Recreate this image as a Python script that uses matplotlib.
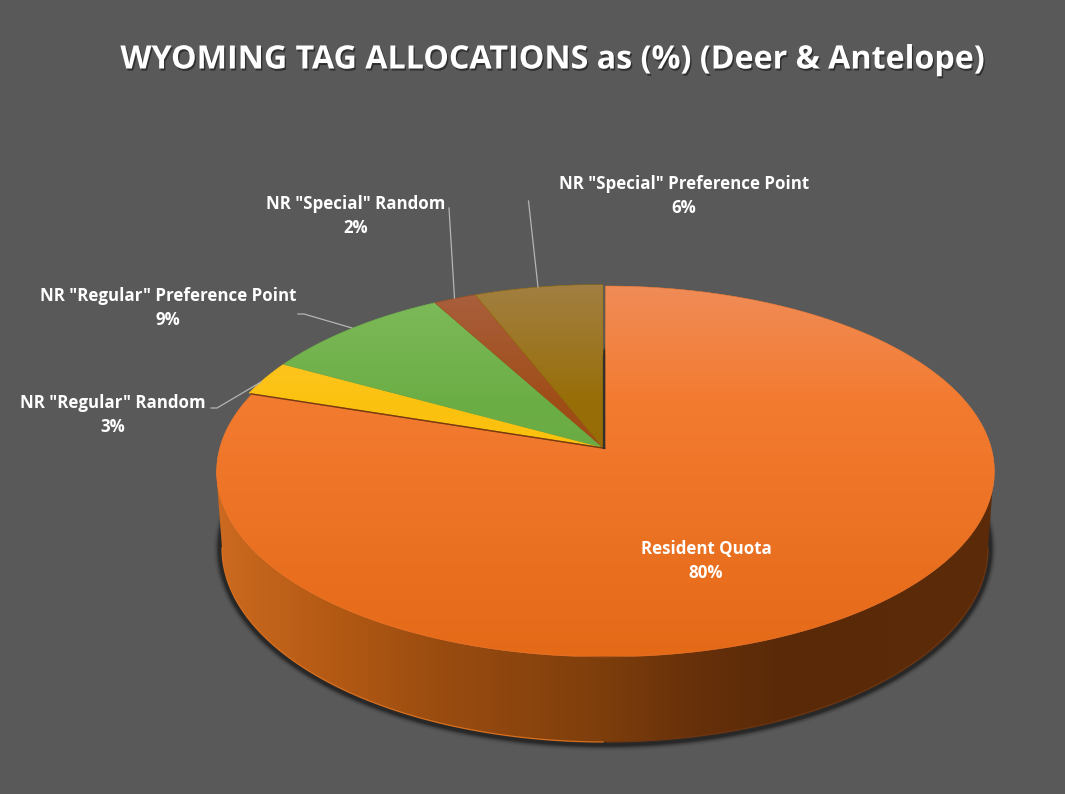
import numpy as np
import matplotlib
matplotlib.use("Agg")
import matplotlib.pyplot as plt
import matplotlib.patheffects as pe
from matplotlib.patches import Polygon
from matplotlib.colors import to_rgb

slice_names = ["Resident Quota", 'NR "Regular" Random', 'NR "Regular" Preference Point',
               'NR "Special" Random', 'NR "Special" Preference Point']
slice_values = [80, 3, 9, 2, 6]

# colours of each slice at top / middle / bottom of the face
slice_colors = [
    ["#F08C58", "#F37B30", "#E56A18"],
    ["#FFC840", "#FCC210", "#F8BE00"],
    ["#7FBB5C", "#6CAE46", "#62A636"],
    ["#AA6040", "#A04E18", "#9C4408"],
    ["#A27F42", "#986E08", "#946600"],
]
slice_shift = [(0.5, 1.0), (-2, -0.5), (-2, -0.5), (-2, -0.5), (-2, -0.5)]

label_pos = [(706, 561), (113, 415), (168, 308), (356, 216), (684, 196)]
leaders = [
    None,
    [(211, 408), (217, 408), (261, 382)],
    [(298, 314), (304, 314), (352, 328)],
    [(449, 208), (454.5, 298)],
    [(528.5, 201), (538, 287)],
]

BG = "#595959"
CX, CY = 604, 448        # apex of the pie
A, B, K = 386.0, 182.7, 0.121   # perspective of the tilted disc


def disc_xy(theta):
    # theta in radians, clockwise from 12 o'clock
    u, v = np.sin(theta), np.cos(theta)
    d = 1 + K * v
    return CX + 1 + A * u / d, CY - B * v / d


def ramp(stops, ys, y):
    arr = np.array([to_rgb(c) for c in stops])
    return np.stack([np.interp(y, ys, arr[:, i]) for i in range(3)], axis=1)


def gradient(ax, poly, colors, vertical=True):
    patch = Polygon(poly, closed=True, transform=ax.transData, fc="none", ec="none")
    ax.add_patch(patch)
    xs, ys = poly[:, 0], poly[:, 1]
    if vertical:
        grid = np.arange(285, 657)
        img = ramp(colors, [285, 400, 656], grid)[:, None, :]
        extent = (xs.min() - 2, xs.max() + 2, 656, 285)
    else:
        grid = np.arange(216, 995)
        img = ramp(colors[1], colors[0], grid)[None, :, :]
        extent = (216, 994, ys.max() + 2, ys.min() - 2)
    im = ax.imshow(img, extent=extent, aspect="auto", interpolation="bilinear", zorder=patch.get_zorder())
    im.set_clip_path(patch)
    return im


fig = plt.figure(figsize=(10.65, 7.94), dpi=100, facecolor=BG)
ax = fig.add_axes([0, 0, 1, 1])
ax.set_facecolor(BG)
ax.axis("off")

# soft shadow below the pie
t = np.linspace(0, 2 * np.pi, 400)
for grow, alpha in [(5, 0.06), (4, 0.10), (3, 0.16), (2, 0.30), (1, 0.55), (0, 0.8)]:
    ax.fill(605 + (386.5 + grow) * np.cos(t), 548.5 + (197.5 + grow) * np.sin(t),
            color="#262626", alpha=alpha, lw=0, zorder=1)

# side wall
t = np.linspace(0, np.pi, 300)
bx, by = 605 + 383 * np.cos(t), 548 + 194 * np.sin(t)
wall = np.column_stack([np.r_[994, bx, 216], np.r_[470, by, 470]])
wall_x = [216, 330, 430, 600, 700, 780, 994]
wall_c = ["#CC6A20", "#B45A14", "#9C4D10", "#7E3E0C", "#66300A", "#5A2A08", "#5C2C0A"]
gradient(ax, wall, (wall_x, wall_c), vertical=False).set_zorder(2)
ax.plot(bx[bx < 605], by[bx < 605], color="#D9701F", lw=0.9, zorder=3)
ax.plot(bx[bx >= 605], by[bx >= 605], color="#6F3510", lw=0.9, zorder=3)

# top face
ends = np.cumsum(slice_values) / np.sum(slice_values) * 2 * np.pi
starts = np.r_[0, ends[:-1]]
for th0, th1, cols, (dx, dy) in zip(starts, ends, slice_colors, slice_shift):
    th = np.linspace(th0, th1, max(int((th1 - th0) * 120), 8))
    x, y = disc_xy(th)
    poly = np.column_stack([np.r_[CX + 1, x] + dx, np.r_[CY, y] + dy])
    gradient(ax, poly, cols).set_zorder(4)
    ax.plot(np.r_[poly[:, 0], poly[0, 0]], np.r_[poly[:, 1], poly[0, 1]],
            color=cols[1], lw=0.4, zorder=4)

# dark inner edges where the big slice sits apart
rx, ry = disc_xy(ends[0])
ax.plot([rx, CX + 1], [ry + 0.3, CY + 0.3], color="#7A3A10", lw=1.0, zorder=5)
ax.plot([CX - 0.5, CX - 0.5], [355, CY + 1], color="#33302C", lw=1.6, zorder=5, solid_capstyle="butt")

for pts in leaders:
    if pts:
        ax.plot(*zip(*pts), color="#B4B4B4", lw=0.9, zorder=6)

font = ["Open Sans", "DejaVu Sans"]
for name, val, (lx, ly) in zip(slice_names, slice_values, label_pos):
    ax.text(lx, ly, f"{name}\n{val}%", color="white", fontsize=12.2, fontweight="bold",
            family=font, ha="center", va="center", linespacing=1.42, zorder=7)

ax.text(553, 60, "WYOMING TAG ALLOCATIONS as (%) (Deer & Antelope)", color="white", fontsize=23.2,
        fontweight="bold", family=font, ha="center", va="center", zorder=7,
        path_effects=[pe.SimplePatchShadow(offset=(1, -1.5), shadow_rgbFace="black", alpha=0.45), pe.Normal()])

ax.set_xlim(0, 1065)
ax.set_ylim(794, 0)
fig.savefig("out.png", dpi=100, facecolor=BG)
